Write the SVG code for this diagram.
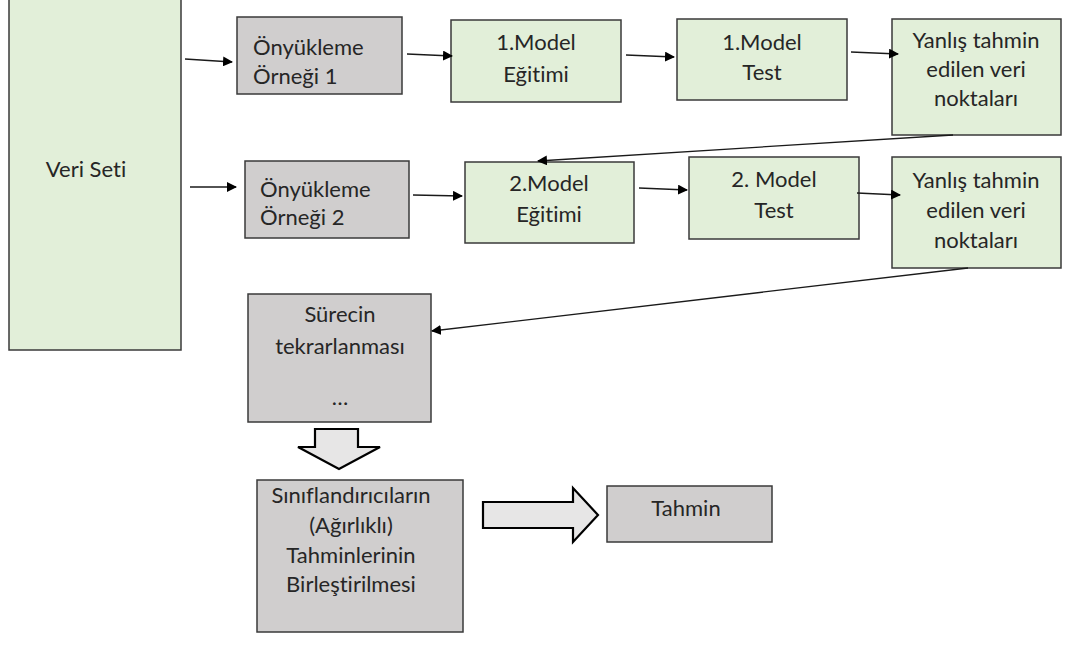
<svg xmlns="http://www.w3.org/2000/svg" width="1066" height="650" viewBox="0 0 1066 650">
  <style>
    .green { fill: #e2efd9; stroke: #3a3a3a; stroke-width: 1.5; }
    .gray { fill: #d0cece; stroke: #3a3a3a; stroke-width: 1.5; }
    .block { fill: #e7e6e6; stroke: #000; stroke-width: 2.2; stroke-linejoin: miter; }
    .lbl { font-family: Lato, "Open Sans", "Liberation Sans", sans-serif; font-size: 22px; fill: #262626; font-variant-ligatures: none; }
    .c { text-anchor: middle; }
    .conn line { stroke: #1a1a1a; stroke-width: 1.3; marker-end: url(#head); }
  </style>
  <defs>
    <marker id="head" viewBox="0 0 10 10" refX="9" refY="5" markerWidth="10" markerHeight="10" markerUnits="userSpaceOnUse" orient="auto">
      <path d="M0,0 L10,5 L0,10 z" fill="#000"/>
    </marker>
  </defs>

  <rect width="1066" height="650" fill="#fff"/>

  <g id="veri-seti">
    <rect class="green" x="9" y="-2" width="172" height="352"/>
    <text class="lbl c" x="86" y="177">Veri Seti</text>
  </g>

  <g id="onyukleme-1">
    <rect class="gray" x="237" y="17" width="165" height="77"/>
    <text class="lbl" x="253" y="55">Önyükleme</text>
    <text class="lbl" x="253" y="84">Örneği 1</text>
  </g>

  <g id="model1-egitim">
    <rect class="green" x="451" y="20" width="170" height="82"/>
    <text class="lbl c" x="536" y="50">1.Model</text>
    <text class="lbl c" x="536" y="82">Eğitimi</text>
  </g>

  <g id="model1-test">
    <rect class="green" x="677" y="19" width="170" height="81"/>
    <text class="lbl c" x="762" y="50">1.Model</text>
    <text class="lbl c" x="762" y="80">Test</text>
  </g>

  <g id="yanlis-1">
    <rect class="green" x="892" y="19" width="169" height="116"/>
    <text class="lbl c" x="976" y="48">Yanlış tahmin</text>
    <text class="lbl c" x="976" y="77">edilen veri</text>
    <text class="lbl c" x="976" y="106">noktaları</text>
  </g>

  <g id="onyukleme-2">
    <rect class="gray" x="245" y="161" width="164" height="77"/>
    <text class="lbl" x="260" y="197">Önyükleme</text>
    <text class="lbl" x="260" y="225">Örneği 2</text>
  </g>

  <g id="model2-egitim">
    <rect class="green" x="465" y="162" width="169" height="81"/>
    <text class="lbl c" x="549" y="191">2.Model</text>
    <text class="lbl c" x="549" y="222">Eğitimi</text>
  </g>

  <g id="model2-test">
    <rect class="green" x="689" y="157" width="170" height="82"/>
    <text class="lbl c" x="774" y="187">2. Model</text>
    <text class="lbl c" x="774" y="218">Test</text>
  </g>

  <g id="yanlis-2">
    <rect class="green" x="892" y="157" width="169" height="111"/>
    <text class="lbl c" x="976" y="188">Yanlış tahmin</text>
    <text class="lbl c" x="976" y="218">edilen veri</text>
    <text class="lbl c" x="976" y="248">noktaları</text>
  </g>

  <g id="surecin-tekrari">
    <rect class="gray" x="248" y="294" width="183" height="128"/>
    <text class="lbl c" x="340" y="322">Sürecin</text>
    <text class="lbl c" x="340" y="354">tekrarlanması</text>
    <text class="lbl c" x="340" y="405">…</text>
  </g>

  <g id="birlestirme">
    <rect class="gray" x="257" y="480" width="206" height="152"/>
    <text class="lbl c" x="351" y="503">Sınıflandırıcıların</text>
    <text class="lbl c" x="351" y="533">(Ağırlıklı)</text>
    <text class="lbl c" x="351" y="563">Tahminlerinin</text>
    <text class="lbl c" x="351" y="592">Birleştirilmesi</text>
  </g>

  <g id="tahmin">
    <rect class="gray" x="607" y="486" width="165" height="56"/>
    <text class="lbl c" x="686" y="516">Tahmin</text>
  </g>

  <g id="connectors" class="conn">
    <line x1="185" y1="59" x2="232" y2="62"/>
    <line x1="190" y1="187" x2="236" y2="187"/>
    <line x1="407" y1="54" x2="452" y2="56"/>
    <line x1="626" y1="55" x2="674" y2="57"/>
    <line x1="851" y1="52" x2="898" y2="54"/>
    <line x1="953" y1="135" x2="538" y2="161"/>
    <line x1="413" y1="195" x2="462" y2="196"/>
    <line x1="639" y1="188" x2="687" y2="190"/>
    <line x1="857" y1="193" x2="900" y2="195"/>
    <line x1="968" y1="268" x2="432" y2="331"/>
    <!-- block arrows -->
    <path class="block" d="M315,429 H358 V447 H380 L339,469 L298,447 H315 Z"/>
    <path class="block" d="M483,502 H573 V488 L598,515 L573,542 V528 H483 Z"/>
  </g>
</svg>
